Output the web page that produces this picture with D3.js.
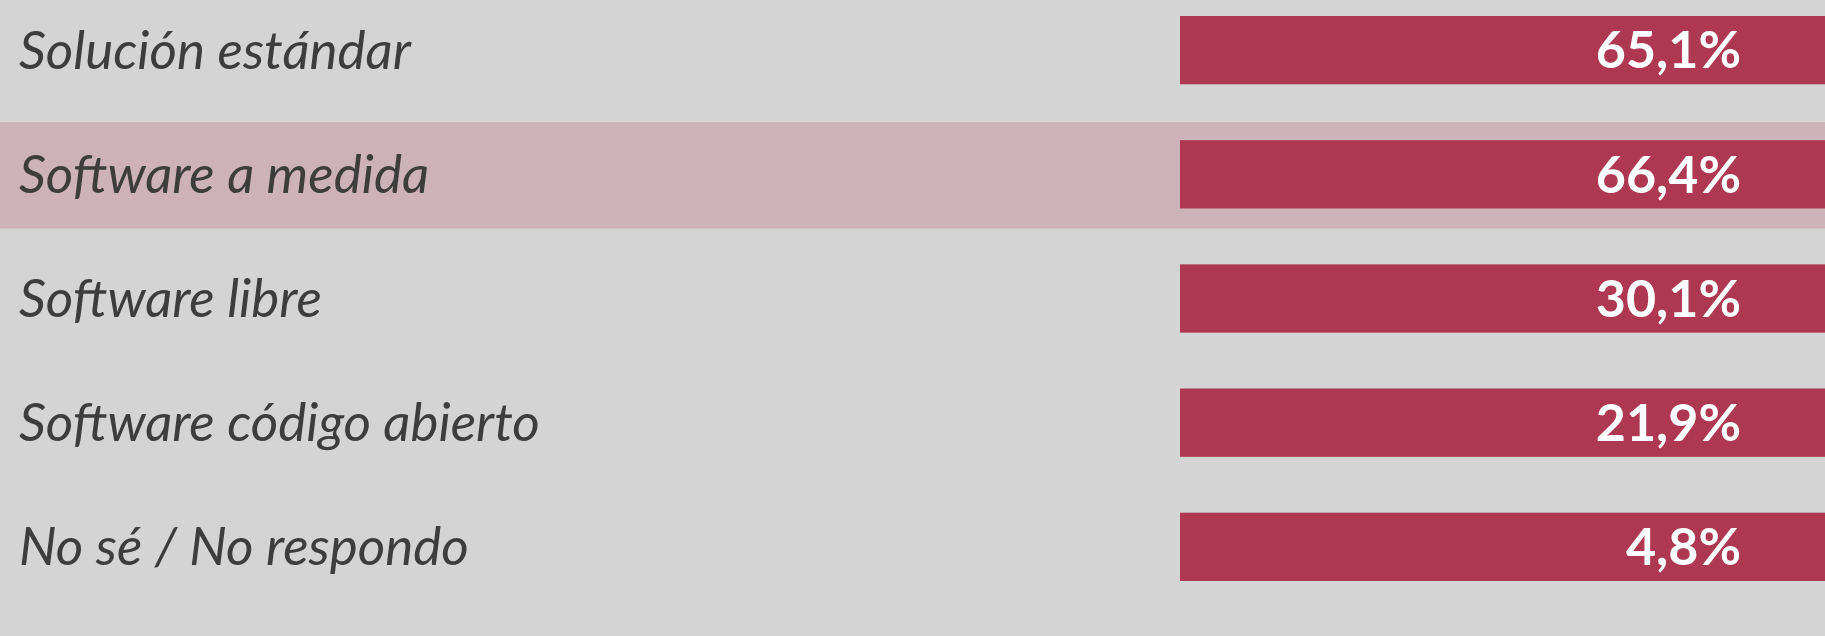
<!DOCTYPE html>
<html>
<head>
<meta charset="utf-8">
<script src="https://cdn.jsdelivr.net/npm/d3@7"></script>
<style>
  html, body { margin: 0; padding: 0; background: #d4d4d4; overflow: hidden; }
  svg { display: block; }
</style>
</head>
<body>
<svg id="chart" width="1825" height="636"></svg>
<script>
const categories = ["Solución estándar", "Software a medida", "Software libre", "Software código abierto", "No sé / No respondo"];
const values = [65.1, 66.4, 30.1, 21.9, 4.8];
const valueLabels = ["65,1%", "66,4%", "30,1%", "21,9%", "4,8%"];
const highlighted = ["Software a medida"];

const W = 1825, H = 636;
const svg = d3.select("#chart");

svg.append("rect").attr("width", W).attr("height", H).attr("fill", "#d4d4d4");

const y = d3.scaleBand().domain(categories).range([16, 581]).paddingInner(0.45).paddingOuter(0);
const barX0 = 1180;
// bars run past the right edge of the view in the original
const x = d3.scaleLinear().domain([0, d3.min(values)]).range([0, 700]);

const data = categories.map((c, i) => ({ c, v: values[i], lab: valueLabels[i] }));

svg.selectAll("rect.hl").data(data.filter(d => highlighted.includes(d.c)))
  .join("rect").attr("class", "hl")
  .attr("x", 0).attr("width", W)
  .attr("y", d => y(d.c) - 18).attr("height", y.bandwidth() + 38)
  .attr("fill", "#cdb3b9");

svg.selectAll("rect.bar").data(data).join("rect").attr("class", "bar")
  .attr("x", barX0).attr("y", d => y(d.c))
  .attr("width", d => x(d.v)).attr("height", y.bandwidth())
  .attr("fill", "#ae3751");

svg.selectAll("text.cat").data(data).join("text").attr("class", "cat")
  .attr("x", 19).attr("y", d => y(d.c) + y.bandwidth() / 2)
  .attr("dy", "0.35em")
  .attr("font-family", "Lato")
  .attr("font-style", "italic")
  .attr("font-size", 53)
  .attr("fill", "#3d3d3d")
  .text(d => d.c);

svg.selectAll("text.val").data(data).join("text").attr("class", "val")
  .attr("x", barX0 + 561).attr("y", d => y(d.c) + y.bandwidth() / 2)
  .attr("dy", "0.35em")
  .attr("text-anchor", "end")
  .attr("font-family", "Lato")
  .attr("font-weight", "bold")
  .attr("font-size", 52)
  .attr("fill", "#ffffff")
  .text(d => d.lab);
</script>
</body>
</html>
